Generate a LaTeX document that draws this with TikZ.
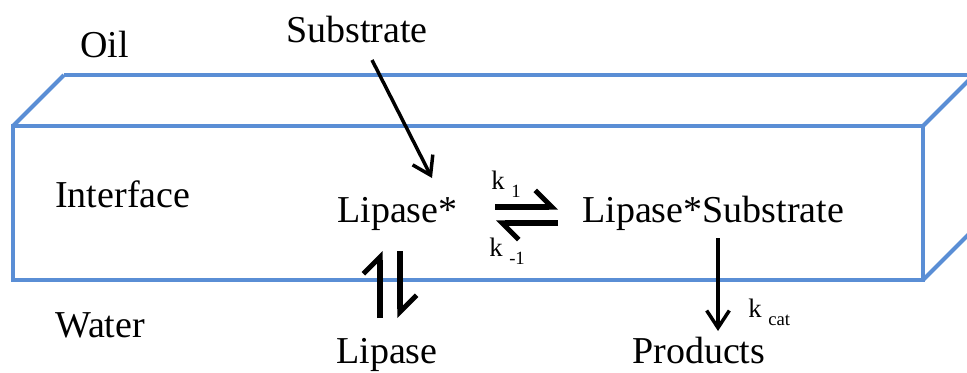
\documentclass[tikz,border=0pt]{standalone}
\usepackage{fontspec}
\setmainfont{Liberation Serif}
\usepackage{tikz}
\usetikzlibrary{arrows.meta}
\definecolor{slabblue}{HTML}{5A8ED5}

\newcommand{\kconst}[1]{{\fontsize{20}{24}\selectfont k \raisebox{-0.3em}{\fontsize{14}{16}\selectfont #1}}}

\tikzset{
  lbl/.style={inner sep=0pt, anchor=base west, font=\fontsize{28.5}{34}\selectfont},
  klbl/.style={inner sep=0pt, anchor=base west},
  slab/.style={slabblue, line width=3pt, line join=miter},
  flow/.style={black, line width=2.6pt, -{Straight Barb[length=13pt, width=17pt, line width=2.6pt]}},
  harp/.style={black, line width=3.8pt, -{Straight Barb[harpoon, length=12.5pt, width=25pt]}}
}

\begin{document}
\begin{tikzpicture}[x=0.75pt, y=-0.75pt]

      \useasboundingbox (0,0) rectangle (967,372);
      \clip (0,0) rectangle (967,372);

      \def\dx{51}
      \def\dy{51}

      % interface slab
      \draw[slab] (13,126) rectangle (923,280);
      \draw[slab] (13+\dx,126-\dy) -- (923+\dx,126-\dy);
      \foreach \px/\py in {13/126, 923/126, 923/280}{
        \draw[slab] (\px,\py) -- ++(\dx,-\dy);
      }

      \node[lbl] (oil)        at (80,57)   {Oil};
      \node[lbl] (substrate)  at (286,42)  {Substrate};
      \node[lbl] (interface)  at (55,207)  {Interface};
      \node[lbl] (lipasestar) at (337,222) {Lipase*};
      \node[lbl] (complex)    at (582,222) {Lipase*Substrate};
      \node[lbl] (water)      at (55,337)  {Water};
      \node[lbl] (lipase)     at (336,363) {Lipase};
      \node[lbl] (products)   at (632,363) {Products};

      \node[klbl] (kone)   at (491,189) {\kconst{1}};
      \node[klbl] (kminus) at (489,256) {\kconst{-1}};
      \node[klbl] (kcat)   at (748,317) {\kconst{cat}};

      \coordinate (subin)   at (372,60);
      \coordinate (subout)  at (432,178);
      \coordinate (fwdtail) at (495,207);
      \coordinate (fwdtip)  at (558,207);
      \coordinate (revtail) at (558,223);
      \coordinate (revtip)  at (496,223);
      \coordinate (uptail)  at (380,318);
      \coordinate (uptip)   at (380,251);
      \coordinate (dntail)  at (400,251);
      \coordinate (dntip)   at (400,318);
      \coordinate (catin)   at (718,238);
      \coordinate (catout)  at (718,331);

      \draw[flow] (subin) -- (subout);
      \draw[flow] (catin) -- (catout);

      \draw[harp] (fwdtail) -- (fwdtip);
      \draw[harp] (revtail) -- (revtip);
      \draw[harp] (uptail) -- (uptip);
      \draw[harp] (dntail) -- (dntip);

    \end{tikzpicture}
\end{document}
